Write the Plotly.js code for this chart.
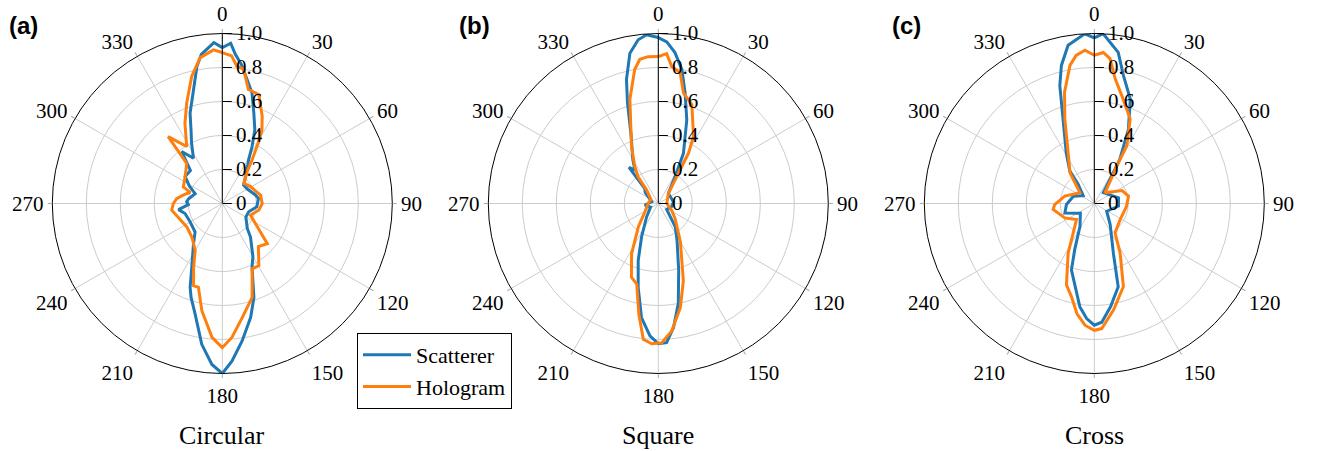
<!DOCTYPE html>
<html>
<head>
<meta charset="utf-8">
<script src="https://cdn.plot.ly/plotly-3.0.1.min.js"></script>
<style>html,body{margin:0;padding:0;background:#fff;}#chart{width:1317px;height:451px;}</style>
</head>
<body>
<div id="chart"></div>
<script>
// Panel (a) Circular
const thetaA_scat = [0,3,5,7.8,11.3,15,19.2,23.8,27.6,31,36.5,44,49,60,75,82,95.5,107.5,120,135,140,150,155,161.4,166,171.8,176.5,180,183.7,188.3,193.8,198.4,201,205.6,215.6,223.6,240,255,262,268,273,278,290,298,306,316,322,327.5,333,337,340.4,345.8,349.5,352,357,360];
const rA_scat     = [0.917,0.944,0.881,0.826,0.744,0.674,0.564,0.474,0.378,0.30,0.245,0.19,0.166,0.17,0.20,0.215,0.204,0.163,0.16,0.208,0.258,0.36,0.414,0.583,0.69,0.817,0.929,1.0,0.949,0.837,0.67,0.582,0.528,0.415,0.291,0.232,0.218,0.227,0.26,0.20,0.21,0.20,0.17,0.22,0.27,0.27,0.388,0.316,0.398,0.471,0.565,0.69,0.82,0.886,0.948,0.917];
const thetaA_holo = [0,3.6,6,9,12.9,18.5,24.6,28.4,30.7,34.4,38,47,59,77.6,90,100,112.6,131.8,140,149.5,155.5,162.4,170,175.9,180,184.4,190.8,195.9,199.3,204.3,210,222,236.6,262.5,270,276,282,289,293,306,318.5,321,328,335,340.5,346.5,351.4,356.7,360];
const rA_holo     = [0.888,0.87,0.813,0.80,0.688,0.676,0.564,0.49,0.413,0.31,0.237,0.173,0.193,0.23,0.235,0.219,0.18,0.355,0.33,0.424,0.423,0.58,0.68,0.79,0.848,0.79,0.642,0.513,0.512,0.41,0.319,0.267,0.25,0.30,0.288,0.27,0.236,0.20,0.249,0.27,0.316,0.506,0.395,0.52,0.627,0.77,0.868,0.905,0.888];

// Panel (b) Square
const thetaB_scat = [0,3,6.3,10,13.6,18.8,26.6,32,45,84,104,125,144,153,163,168.7,173,176.6,180,183.6,188.4,193.5,199.4,206.6,221,245,263,285,310,318,321,325,330,338,343,345.6,349.3,353,356,360];
const rB_scat     = [0.976,0.952,0.893,0.80,0.67,0.52,0.33,0.186,0.084,0.09,0.08,0.06,0.17,0.243,0.41,0.60,0.735,0.82,0.825,0.78,0.678,0.507,0.356,0.22,0.105,0.05,0.08,0.04,0.10,0.12,0.274,0.24,0.30,0.425,0.62,0.753,0.90,0.97,0.995,0.976];
const thetaB_holo = [0,3.2,5.6,9.5,12.8,18.7,27.7,31,33.7,45,90,117,132,150,162,168,174,178.6,182.7,186.3,190,195,200,208,220.6,238,270,300,319,323,327.5,334.8,344.7,350,352.7,356,360];
const rB_holo     = [0.864,0.883,0.81,0.78,0.667,0.615,0.446,0.345,0.213,0.084,0.05,0.088,0.133,0.26,0.477,0.625,0.754,0.82,0.826,0.804,0.66,0.49,0.462,0.335,0.18,0.093,0.06,0.05,0.105,0.197,0.257,0.37,0.634,0.80,0.855,0.866,0.864];

// Panel (c) Cross
const thetaC_scat = [0,3,9,12.8,19,24.7,30,33,40,77,96,122,143,159,164,171,176.4,180,183.8,188,193,199,203,212,235,252,268,289,305,320,323,331,339.7,343.7,346.6,350.6,356.8,360];
const rC_scat     = [0.974,1.0,0.90,0.773,0.65,0.48,0.30,0.17,0.083,0.146,0.143,0.086,0.155,0.313,0.51,0.614,0.70,0.716,0.678,0.613,0.50,0.413,0.295,0.159,0.10,0.182,0.164,0.13,0.08,0.147,0.24,0.34,0.53,0.723,0.835,0.944,1.0,0.974];
const thetaC_holo = [0,3.4,6.2,9.5,14.3,23,29.4,31,45,65,77.8,95,108,122,144.8,152.5,160.7,169.8,176.6,180,184.4,189,193.7,198.9,207.8,215.6,228,244,261.7,268.5,284,307,321.6,332.8,340.8,345,350,353,356.5,360];
const rC_holo     = [0.872,0.89,0.857,0.744,0.655,0.54,0.39,0.257,0.089,0.18,0.206,0.19,0.18,0.179,0.212,0.329,0.518,0.637,0.737,0.746,0.718,0.655,0.565,0.506,0.33,0.213,0.141,0.193,0.245,0.233,0.179,0.106,0.23,0.337,0.527,0.677,0.825,0.878,0.903,0.872];

const seriesNames = ['Scatterer','Hologram'];
const colors = ['#1f77b4','#ff7f0e'];
const panelTitles = ['Circular','Square','Cross'];
const panelLabels = ['(a)','(b)','(c)'];
const angleTicks = [0,30,60,90,120,150,180,210,240,270,300,330];
const radialTicks = [0,0.2,0.4,0.6,0.8,1.0];
const radialTickText = ['0','0.2','0.4','0.6','0.8','1.0'];

const data = [
  [thetaA_scat,rA_scat,thetaA_holo,rA_holo],
  [thetaB_scat,rB_scat,thetaB_holo,rB_holo],
  [thetaC_scat,rC_scat,thetaC_holo,rC_holo]
];
const serif = 'Liberation Serif, Times New Roman, serif';
const traces = [];
data.forEach((d,i)=>{
  const sub = i===0 ? 'polar' : 'polar'+(i+1);
  for(let s=0;s<2;s++){
    traces.push({type:'scatterpolar',mode:'lines',subplot:sub,
      theta:d[2*s],r:d[2*s+1],name:seriesNames[s],showlegend:i===0,
      line:{color:colors[s],width:3}});
  }
});

const centers = [222.3,658.3,1094.3];
const W=1317,H=451,R=170,CY=203.5;
const layout = {width:W,height:H,margin:{l:0,r:0,t:0,b:0},paper_bgcolor:'#fff',
  showlegend:true,
  legend:{x:357/W,y:1-333/H,xanchor:'left',yanchor:'top',bgcolor:'#fff',bordercolor:'#000',borderwidth:1,
    itemwidth:48,font:{family:serif,size:22,color:'#000'},tracegroupgap:0},
  annotations:[]};
centers.forEach((cx,i)=>{
  const key = i===0 ? 'polar' : 'polar'+(i+1);
  layout[key] = {
    domain:{x:[(cx-R)/W,(cx+R)/W],y:[(H-CY-R)/H,(H-CY+R)/H]},
    bgcolor:'#fff',
    angularaxis:{rotation:90,direction:'clockwise',tickmode:'array',tickvals:angleTicks,
      ticktext:angleTicks.map(String),showline:true,linecolor:'#000',linewidth:1,
      gridcolor:'#cccccc',gridwidth:1,ticks:'outside',ticklen:4,tickcolor:'#aaaaaa',
      tickfont:{family:serif,size:21,color:'#000'}},
    radialaxis:{range:[0,1],tickmode:'array',tickvals:radialTicks,ticktext:radialTickText,
      angle:90,tickangle:90,showline:true,linecolor:'#000',linewidth:1,gridcolor:'#cccccc',
      ticks:'outside',ticklen:9,tickcolor:'#000',
      tickfont:{family:serif,size:21,color:'#000'}}
  };
  layout.annotations.push({text:panelTitles[i],x:cx/W,y:1-435/H,xref:'paper',yref:'paper',
    showarrow:false,xanchor:'center',yanchor:'middle',font:{family:serif,size:26,color:'#000'}});
});
[7,457,890].forEach((x,i)=>{
  layout.annotations.push({text:'<b>'+panelLabels[i]+'</b>',x:x/W,y:1-26/H,xref:'paper',yref:'paper',
    showarrow:false,xanchor:'left',yanchor:'middle',font:{family:'Liberation Sans, Arial, sans-serif',size:24,color:'#000'}});
});
Plotly.newPlot('chart',traces,layout,{displayModeBar:false,staticPlot:true});
</script>
</body>
</html>
